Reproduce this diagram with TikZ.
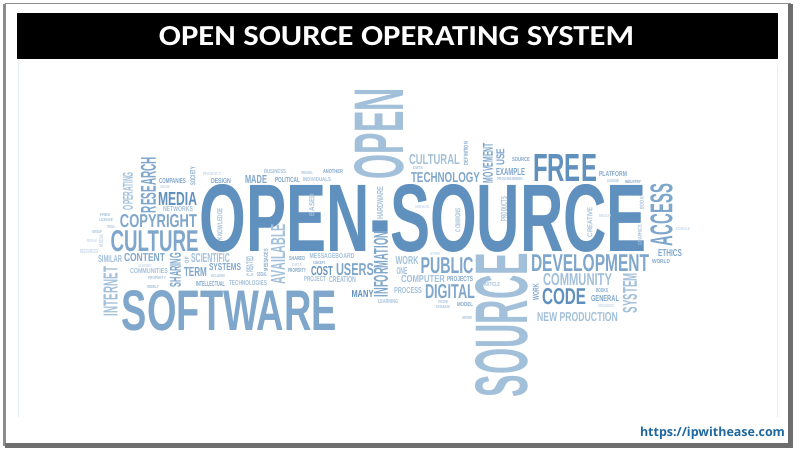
\documentclass[tikz,border=0pt]{standalone}
\usepackage{fontspec}
\setmainfont{Liberation Sans}
\newfontfamily\titlefont{Carlito}[BoldFont={Carlito Bold}]
\newfontfamily\urlfont{Open Sans}
\definecolor{wa}{HTML}{6090BD}
\definecolor{wb}{HTML}{7FA6CB}
\definecolor{wc}{HTML}{A3C0DA}
\definecolor{wd}{HTML}{C6D8E8}
\definecolor{frameg}{HTML}{8C8C8C}
\definecolor{framed}{HTML}{6E6E6E}
\definecolor{innerl}{HTML}{E4EBEF}
\definecolor{urlc}{HTML}{1F689F}
\newcounter{wn}
\newcommand{\W}[7][wb]{\stepcounter{wn}\node[wordnode,text=#1,rotate=#6] (w\arabic{wn}) at (#2,#3) {\resizebox{#4pt}{#5pt}{#7}};}
\tikzset{wordnode/.style={inner sep=0pt,outer sep=0pt,font=\fontsize{10}{10}\selectfont\bfseries}}
\begin{document}
\begin{tikzpicture}[x=1pt,y=-1pt]
\useasboundingbox (0,0) rectangle (800,455);
\fill[white] (0,0) rectangle (800,455);
% outer frame
\coordinate (fa) at (4.5,3.5);
\coordinate (fb) at (790.5,3.5);
\coordinate (fc) at (790.5,445.5);
\coordinate (fd) at (4.5,445.5);
\draw[frameg,line width=1pt] (fa) -- (fb);
\draw[frameg,line width=2.5pt] (fa) -- (fd);
\draw[framed,line width=4.5pt] (fb) -- (fc) -- (fd);
% inner faint lines
\coordinate (la) at (18,60); \coordinate (lb) at (18,417);
\coordinate (lc) at (777,66); \coordinate (ld) at (777,417);
\draw[innerl,line width=1pt] (la) -- (lb);
\draw[innerl,line width=1pt] (lc) -- (ld);
% title bar
\node[fill=black,minimum width=761pt,minimum height=46pt,inner sep=0pt] (bar) at (397.5,36) {};
\node[text=white,inner sep=0pt] (title) at (396.5,36.5) {\resizebox{475pt}{19pt}{\titlefont\bfseries OPEN SOURCE OPERATING SYSTEM}};
% url
\node[text=urlc,inner sep=0pt] (url) at (712.5,433) {\resizebox{145pt}{!}{\urlfont\bfseries https://ipwithease.com}};
% big words
\W[wa]{423.5}{218}{447}{67}{0}{OPEN-SOURCE}
\W[wc]{379.5}{133.5}{91}{49}{90}{OPEN}
\W[wc]{501.5}{325}{144}{52}{90}{SOURCE}
\W{229.5}{311}{215}{40}{0}{SOFTWARE}
\W[wa]{565}{168}{64}{27}{0}{FREE}
\W{661.5}{215}{62}{22}{90}{ACCESS}
\W{590}{263.5}{118}{17}{0}{DEVELOPMENT}
\W[wc]{577.5}{280}{69}{12}{0}{COMMUNITY}
\W[wa]{564}{297}{44}{16}{0}{CODE}
\W[wc]{577.5}{317.5}{81}{9}{0}{NEW PRODUCTION}
\W[wc]{630}{293}{40}{14}{90}{SYSTEM}
\W{670}{253.5}{24}{7}{0}{ETHICS}
\W{661}{262}{18}{4}{0}{WORLD}
\W{602}{291}{12}{4}{0}{BOOKS}
\W{605}{299}{28}{6}{0}{GENERAL}
\W[wd]{606}{306}{16}{3}{0}{ORGANIZED}
\W{536}{292}{16}{6}{90}{WORK}
\W{447}{266}{53}{16}{0}{PUBLIC}
\W{450}{291.5}{50}{14}{0}{DIGITAL}
\W[wc]{423}{279.5}{44}{7}{0}{COMPUTER}
\W{460}{279.5}{26}{5}{0}{PROJECTS}
\W[wc]{408}{290.5}{28}{6}{0}{PROCESS}
\W[wc]{407}{260.5}{23}{8}{0}{WORK}
\W[wc]{402}{271}{11}{7}{0}{ONE}
\W{381}{264.5}{65}{14}{90}{INFORMATION}
\W[wa]{362.5}{294}{22}{7}{0}{MANY}
\W{355}{270}{38}{12}{0}{USERS}
\W[wa]{322}{271.5}{22}{9}{0}{COST}
\W[wc]{332}{256.5}{45}{5}{0}{MESSAGEBOARD}
\W[wc]{315}{279.5}{22}{5}{0}{PROJECT}
\W[wc]{342.5}{280}{27}{6}{0}{CREATION}
\W{297}{259}{16}{4}{0}{SHARED}
\W[wd]{297}{265}{10}{3}{0}{DATA}
\W{297}{271}{18}{4}{0}{PROPERTY}
\W{319}{263}{12}{3}{0}{CONCEPT}
\W[wc]{278}{254}{60}{14}{90}{AVAILABLE}
\W{154.5}{241}{88}{21}{0}{CULTURE}
\W{158.5}{221}{77}{13}{0}{COPYRIGHT}
\W[wa]{177.5}{199}{39}{13}{0}{MEDIA}
\W{148.5}{185}{56}{15}{90}{RESEARCH}
\W[wc]{128}{191}{38}{10}{90}{OPERATING}
\W{172.5}{181.5}{27}{5}{0}{COMPANIES}
\W[wd]{165}{187}{10}{3}{0}{ONLINE}
\W{193}{176}{18}{5}{90}{SOCIETY}
\W[wc]{178}{209}{30}{5}{0}{NETWORKS}
\W[wd]{212}{174}{18}{3}{0}{PRODUCT}
\W{221}{181}{20}{5}{0}{DESIGN}
\W[wb]{256}{179.5}{22}{8}{0}{MADE}
\W[wc]{220}{224}{32}{5}{90}{KNOWLEDGE}
\W{287.5}{180.5}{25}{5}{0}{POLITICAL}
\W[wc]{275}{171.5}{22}{4}{0}{BUSINESS}
\W[wc]{307}{173}{12}{3}{0}{ORIGINAL}
\W{333}{172}{20}{4}{0}{ANOTHER}
\W[wc]{317}{180}{28}{4}{0}{INDIVIDUALS}
\W[wc]{312}{205}{22}{5}{90}{BASED}
\W[wc]{380}{203}{33}{6}{90}{HARDWARE}
\W[wc]{434.5}{160}{51}{10}{0}{CULTURAL}
\W{445.5}{177.5}{69}{10}{0}{TECHNOLOGY}
\W[wc]{418}{168}{10}{3}{0}{DATA}
\W{466}{153.5}{23}{4}{90}{DEFINITION}
\W{488}{163}{40}{10}{90}{MOVEMENT}
\W{500.5}{157}{17}{8}{90}{USE}
\W{521}{160}{18}{4}{0}{SOURCE}
\W{510.5}{171.5}{29}{7}{0}{EXAMPLE}
\W[wc]{510}{179}{26}{3}{0}{PROGRAMMING}
\W{613}{174}{28}{5}{0}{PLATFORM}
\W[wc]{613}{181}{12}{3}{0}{LICENSE}
\W{633}{182}{16}{3}{0}{INDUSTRY}
\W[wc]{642}{203}{12}{4}{90}{BOOK}
\W[wc]{504}{209}{24}{6}{90}{PRODUCTS}
\W[wc]{458}{220}{24}{5}{90}{COMMONS}
\W[wc]{590}{222}{30}{5}{90}{CREATIVE}
\W[wd]{605}{216}{12}{3}{0}{MEDIUM}
\W[wd]{422}{207}{14}{3}{0}{VERSION}
\W[wc]{640}{235}{20}{4}{90}{GRAPHICS}
\W[wc]{492}{285}{16}{4}{0}{ARTICLE}
\W[wd]{435}{254}{10}{3}{0}{OTHER}
\W[wc]{467}{318}{10}{3}{0}{UNITED}
\W[wc]{443}{302}{10}{3}{0}{SYSTEM}
\W[wc]{443}{307}{14}{3}{0}{DATABASE}
\W{465}{305}{16}{4}{0}{MODEL}
\W[wc]{388}{302}{20}{4}{0}{LEARNING}
\W[wc]{110.5}{291.5}{49}{14}{90}{INTERNET}
\W[wc]{110}{259.5}{24}{7}{0}{SIMILAR}
\W{144.5}{258}{41}{8}{0}{CONTENT}
\W[wc]{149}{271.5}{38}{5}{0}{COMMUNITIES}
\W{175.5}{270}{34}{11}{90}{SHARING}
\W[wc]{210.5}{258.5}{39}{9}{0}{SCIENTIFIC}
\W{195.5}{272}{23}{9}{0}{TERM}
\W{225}{267.5}{32}{7}{0}{SYSTEMS}
\W{210.5}{284.5}{29}{5}{0}{INTELLECTUAL}
\W[wc]{248}{283.5}{38}{5}{0}{TECHNOLOGIES}
\W[wc]{218}{276}{14}{3}{0}{INCLUDING}
\W[wc]{250}{266}{20}{7}{90}{CREATED}
\W{262}{275}{10}{4}{0}{SOCIAL}
\W{266}{260}{22}{4}{90}{MESSAGES}
\W{187}{260}{6}{4}{90}{OF}
\W[wc]{157}{278}{18}{3}{0}{PROPERTY}
\W[wd]{145}{266}{14}{3}{0}{ACADEMIC}
\W[wc]{153}{287}{12}{3}{0}{WIDELY}
\W[wd]{89}{252}{18}{4}{0}{RESOURCES}
\W[wc]{105}{215}{10}{3}{0}{FREE}
\W[wc]{106}{220}{14}{3}{0}{LICENSE}
\W[wc]{111}{227}{8}{3}{0}{TOOLS}
\W[wc]{97}{232}{10}{3}{0}{GROUP}
\W[wd]{92}{241}{10}{3}{0}{PEOPLE}
\W[wd]{101}{241}{12}{4}{90}{MEDIA}
\W[wd]{683}{229}{14}{3}{0}{GOOGLE}
\end{tikzpicture}
\end{document}
